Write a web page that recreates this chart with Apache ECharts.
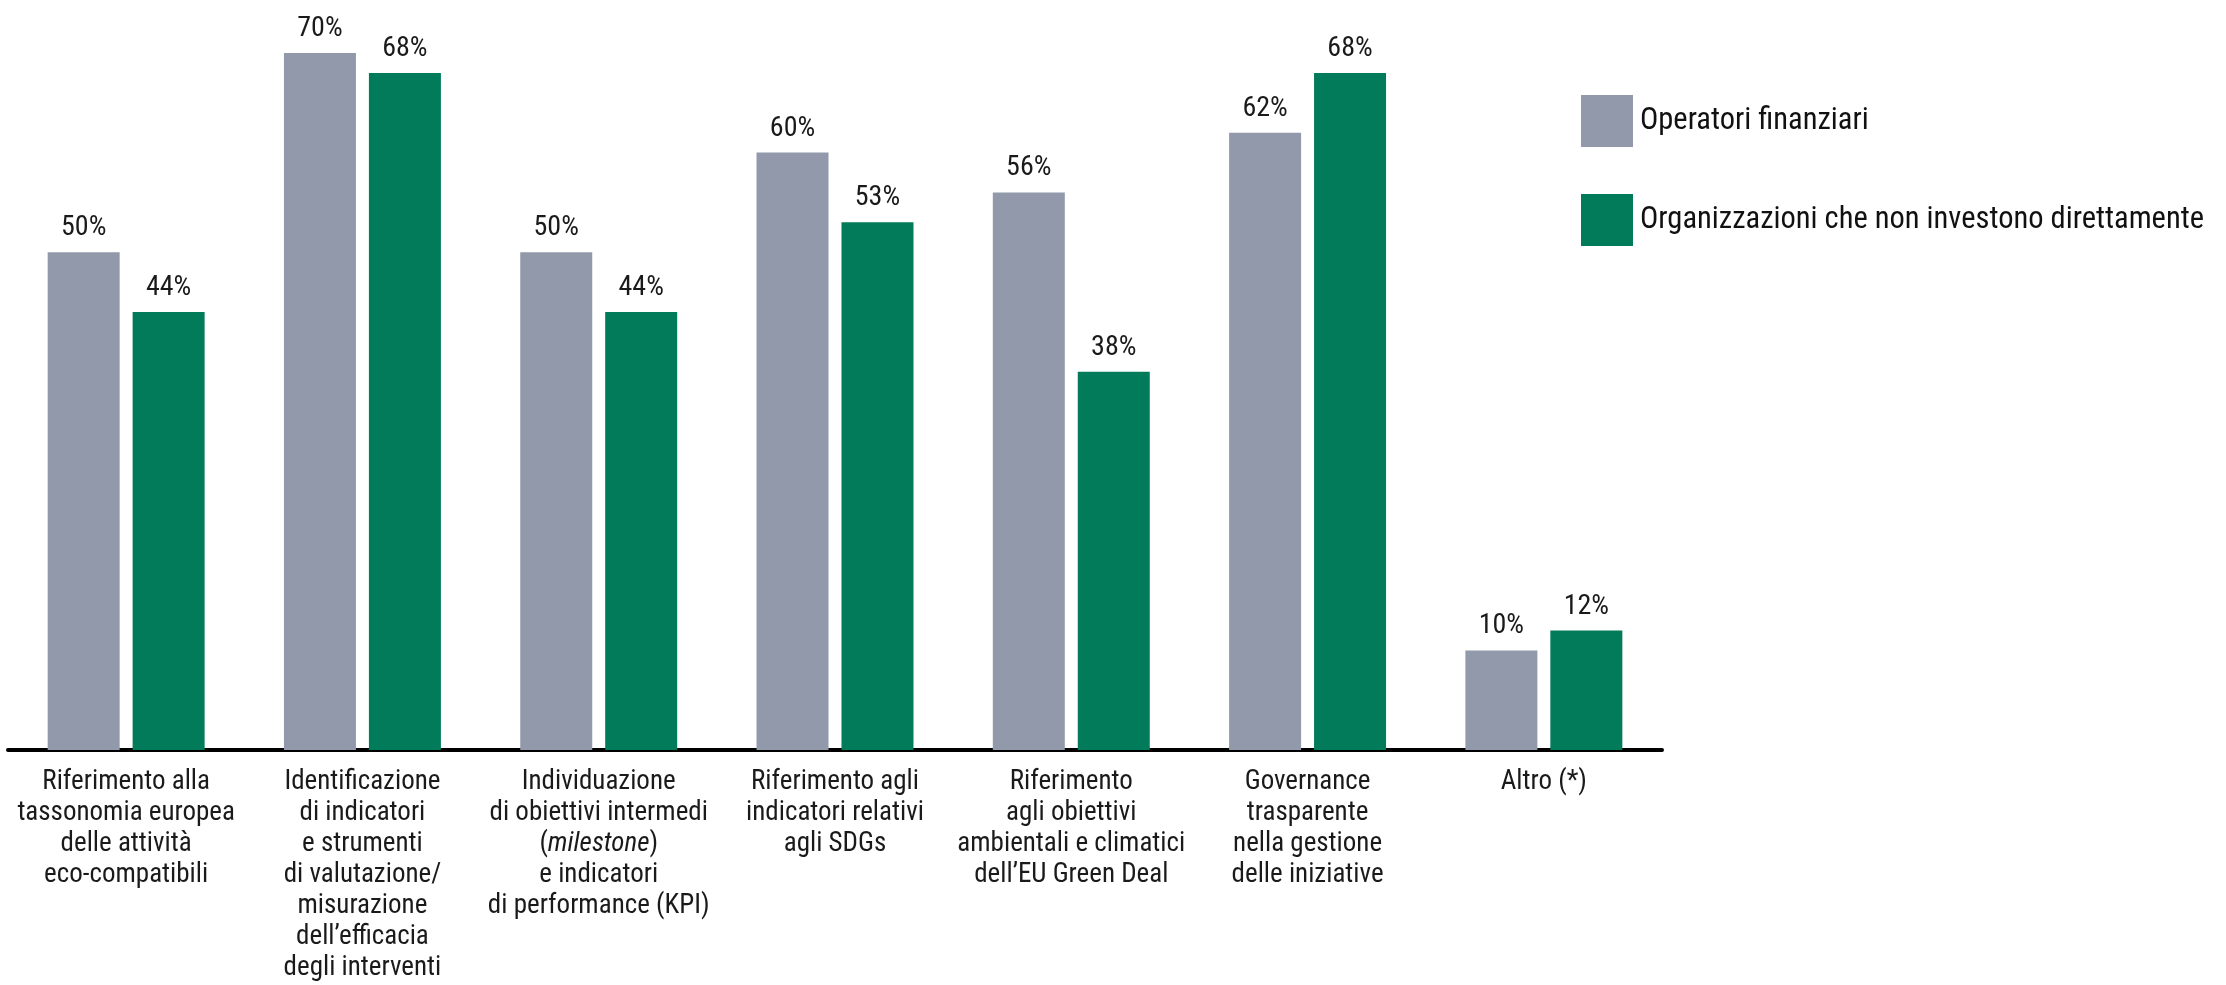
<!DOCTYPE html>
<html>
<head>
<meta charset="utf-8">
<script src="https://cdn.jsdelivr.net/npm/echarts@6/dist/echarts.min.js"></script>
<style>
html,body{margin:0;padding:0;background:#fff;}
#chart{width:2226px;height:985px;}
</style>
</head>
<body>
<div id="chart"></div>
<script>
const categories = [
  "Riferimento alla\ntassonomia europea\ndelle attività\neco-compatibili",
  "Identificazione\ndi indicatori\ne strumenti\ndi valutazione/\nmisurazione\ndell’efficacia\ndegli interventi",
  "Individuazione\ndi obiettivi intermedi\n(milestone)\ne indicatori\ndi performance (KPI)",
  "Riferimento agli\nindicatori relativi\nagli SDGs",
  "Riferimento\nagli obiettivi\nambientali e climatici\ndell’EU Green Deal",
  "Governance\ntrasparente\nnella gestione\ndelle iniziative",
  "Altro (*)"
];
const seriesNames = ["Operatori finanziari", "Organizzazioni che non investono direttamente"];
const operatoriFinanziari = [50, 70, 50, 60, 56, 62, 10];
const organizzazioni = [44, 68, 44, 53, 38, 68, 12];

const FONT = '"Liberation Sans Narrow", "Roboto Condensed", "Liberation Sans", Arial, sans-serif';
const chart = echarts.init(document.getElementById('chart'));
const labelStyle = {
  show: true, position: 'top', distance: 10,
  formatter: p => p.value + '%',
  fontFamily: FONT, fontSize: 28, color: '#1a1a1a'
};
chart.setOption({
  animation: false,
  legend: {
    orient: 'vertical', left: 1576, top: 90,
    itemWidth: 52, itemHeight: 52, itemGap: 47,
    icon: 'rect',
    textStyle: { fontFamily: FONT, fontSize: 30.5, color: '#111', padding: [0, 0, 0, 2] },
    data: seriesNames
  },
  grid: { left: 8, right: 564, top: 53, bottom: 235, containLabel: false },
  xAxis: {
    type: 'category', data: categories,
    axisLine: { lineStyle: { color: '#000', width: 4 } },
    axisTick: { show: false },
    axisLabel: {
      interval: 0, margin: 17,
      fontFamily: FONT, fontSize: 27, lineHeight: 31, color: '#1a1a1a', align: 'center',
      formatter: v => v.replace('milestone', '{i|milestone}'),
      rich: { i: { fontStyle: 'italic', fontFamily: FONT, fontSize: 27, lineHeight: 31, color: '#1a1a1a' } }
    }
  },
  yAxis: { type: 'value', min: 0, max: 70, show: false, splitLine: { show: false } },
  series: [
    { name: seriesNames[0], type: 'bar', data: operatoriFinanziari, barWidth: 72, barGap: '18%',
      itemStyle: { color: '#9199aa' }, label: labelStyle },
    { name: seriesNames[1], type: 'bar', data: organizzazioni, barWidth: 72, barGap: '18%',
      itemStyle: { color: '#017b5a' }, label: labelStyle }
  ]
});
</script>
</body>
</html>
